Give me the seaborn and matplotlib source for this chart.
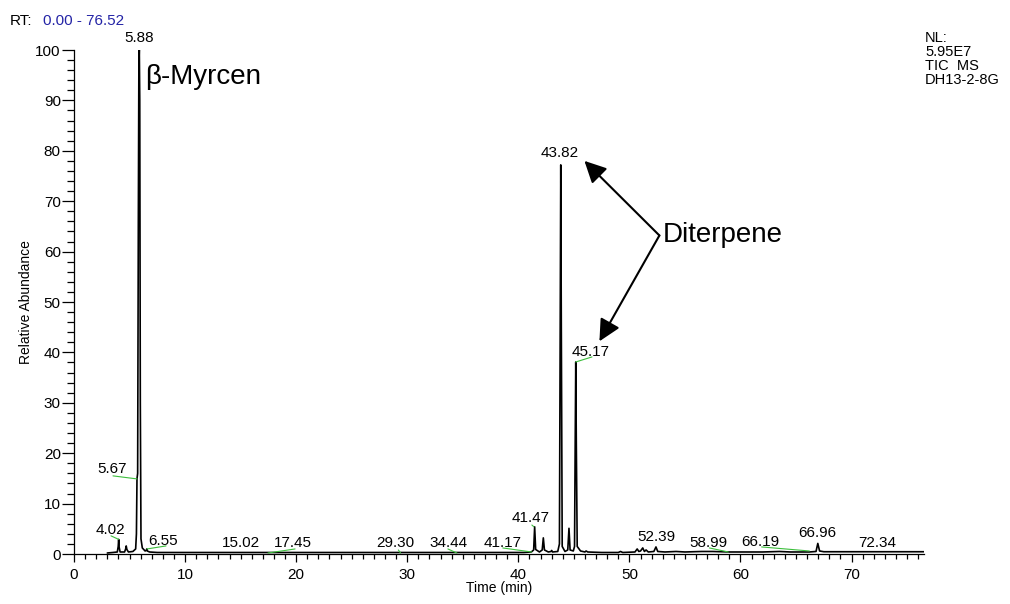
import matplotlib
matplotlib.use("Agg")
import matplotlib.pyplot as plt
from matplotlib.ticker import MultipleLocator
import seaborn as sns
import pandas as pd

# TIC trace (time in min, relative abundance in %)
rt_min = [3.00, 3.50, 3.90, 3.98, 4.02, 4.06, 4.15, 4.55, 4.65, 4.70, 4.76, 4.90,
          5.30, 5.55, 5.62, 5.67, 5.73, 5.79, 5.84, 5.88, 5.92, 5.97, 6.03, 6.15,
          6.40, 6.50, 6.55, 6.60, 6.80, 7.50, 9.00, 12.00, 15.02, 17.45, 20.00, 25.00,
          29.30, 32.00, 34.44, 38.00, 40.50, 41.17, 41.38, 41.47, 41.56, 41.90, 42.15, 42.25,
          42.35, 42.70, 42.95, 43.00, 43.08, 43.55, 43.70, 43.77, 43.82, 43.87, 43.95, 44.20,
          44.45, 44.56, 44.66, 44.95, 45.06, 45.12, 45.17, 45.22, 45.30, 45.60, 46.00, 46.10,
          46.25, 47.50, 49.00, 49.20, 49.40, 50.50, 50.70, 50.85, 51.00, 51.20, 51.35, 51.50,
          51.70, 52.20, 52.39, 52.55, 53.20, 54.20, 55.00, 56.50, 57.50, 58.99, 60.50, 62.00,
          63.50, 64.50, 66.19, 66.80, 66.96, 67.12, 67.50, 70.00, 72.34, 76.52]
abundance = [0.2, 0.3, 0.4, 1.5, 2.9, 1.4, 0.4, 0.4, 1.0, 1.6, 0.9, 0.4,
             0.5, 1.0, 4.0, 14.9, 16.0, 65.0, 97.0, 100.0, 90.0, 30.0, 3.0, 1.2,
             0.6, 0.7, 1.0, 0.6, 0.4, 0.3, 0.3, 0.3, 0.3, 0.3, 0.3, 0.3,
             0.3, 0.3, 0.3, 0.3, 0.3, 0.4, 0.8, 5.4, 0.9, 0.4, 0.8, 3.2,
             0.8, 0.4, 0.5, 0.7, 0.4, 0.5, 2.0, 45.0, 77.2, 45.0, 1.5, 0.5,
             0.8, 5.1, 0.8, 0.6, 1.5, 22.0, 38.1, 22.0, 1.5, 0.6, 0.4, 0.6,
             0.4, 0.3, 0.3, 0.5, 0.3, 0.4, 1.0, 0.5, 0.6, 1.2, 0.5, 0.8,
             0.4, 0.5, 1.4, 0.5, 0.4, 0.5, 0.4, 0.5, 0.5, 0.4, 0.4, 0.4,
             0.5, 0.4, 0.4, 0.5, 2.1, 0.6, 0.45, 0.45, 0.45, 0.45]

# labelled peaks
peak_rt = [4.02, 5.67, 5.88, 6.55, 15.02, 17.45, 29.30, 34.44, 41.17,
           41.47, 43.82, 45.17, 52.39, 58.99, 66.19, 66.96, 72.34]
peak_labels = ["4.02", "5.67", "5.88", "6.55", "15.02", "17.45", "29.30", "34.44", "41.17",
               "41.47", "43.82", "45.17", "52.39", "58.99", "66.19", "66.96", "72.34"]

x_ticks = [0, 10, 20, 30, 40, 50, 60, 70]
y_ticks = [0, 10, 20, 30, 40, 50, 60, 70, 80, 90, 100]
rt_range = (0.00, 76.52)
header_lines = ["NL:", "5.95E7", "TIC  MS", "DH13-2-8G"]

df = pd.DataFrame({"rt": rt_min, "abundance": abundance})

sns.set_style("ticks")
plt.rcParams['font.family'] = ['Liberation Sans', 'DejaVu Sans']
for key in ["text.color", "axes.labelcolor", "xtick.color", "ytick.color", "axes.edgecolor"]:
    plt.rcParams[key] = "black"

fig = plt.figure(figsize=(10.1, 6.04), dpi=100)
ax = fig.add_axes([74 / 1010, 50 / 604, 850 / 1010, 504 / 604])

sns.lineplot(data=df, x="rt", y="abundance", ax=ax, color="black", lw=1.2,
             sort=False, estimator=None)

ax.set_xlim(*rt_range)
ax.set_ylim(0, 100)
ax.set_xticks(x_ticks)
ax.set_yticks(y_ticks)
ax.xaxis.set_minor_locator(MultipleLocator(1))
ax.yaxis.set_minor_locator(MultipleLocator(2))
ax.tick_params(axis="x", which="major", length=6, width=0.9, pad=4, labelsize=11)
ax.tick_params(axis="x", which="minor", length=3.5, width=0.9)
ax.tick_params(axis="y", which="major", length=8.5, width=0.9, pad=1, labelsize=11)
ax.tick_params(axis="y", which="minor", length=5, width=0.9)
sns.despine(ax=ax)
for s in ["left", "bottom"]:
    ax.spines[s].set_linewidth(0.9)

ax.set_xlabel("Time (min)", fontsize=10)
ax.set_ylabel("Relative Abundance", fontsize=10)
ax.xaxis.set_label_coords(0.5, -0.053)
ax.yaxis.set_label_coords(-0.048, 0.5)

# peak label placement: text centre, and optional green leader (start, end)
label_layout = {
    "4.02": ((3.24, 4.76), ((3.33, 3.6), (4.02, 2.9))),
    "5.67": ((3.42, 16.9), ((3.51, 15.5), (5.67, 14.9))),
    "5.88": ((5.83, 102.3), None),
    "6.55": ((8.0, 2.6), ((6.57, 1.0), (8.28, 1.6))),
    "15.02": ((15.03, 2.2), None),
    "17.45": ((19.7, 2.2), ((17.46, 0.2), (19.9, 1.0))),
    "29.30": ((28.9, 2.2), ((29.2, 0.8), (29.4, 0.2))),
    "34.44": ((33.75, 2.2), ((33.66, 1.0), (34.47, 0.2))),
    "41.17": ((38.6, 2.2), ((38.6, 1.2), (41.2, 0.4))),
    "41.47": ((41.1, 7.1), ((41.22, 5.75), (41.4, 5.4))),
    "43.82": ((43.74, 79.6), None),
    "45.17": ((46.5, 40.1), ((45.17, 38.1), (46.63, 39.1))),
    "52.39": ((52.4, 3.4), None),
    "58.99": ((57.1, 2.2), ((57.2, 1.2), (58.9, 0.4))),
    "66.19": ((61.8, 2.4), ((61.9, 1.4), (66.2, 0.6))),
    "66.96": ((66.9, 4.2), None),
    "72.34": ((72.3, 2.2), None),
}
for rt, lab in zip(peak_rt, peak_labels):
    (tx, ty), leader = label_layout[lab]
    ax.text(tx, ty, lab, ha="center", va="center", fontsize=11, clip_on=False)
    if leader is not None:
        (x0, y0), (x1, y1) = leader
        ax.plot([x0, x1], [y0, y1], color="#3cbf3c", lw=0.8)

# compound annotations
ax.text(6.4, 94.6, "\u03b2-Myrcen", fontsize=20, ha="left", va="center")
ax.text(53.0, 63.2, "Diterpene", fontsize=20, ha="left", va="center")
arrow = dict(arrowstyle="-|>,head_length=0.6,head_width=0.3", color="black", lw=1.5,
             mutation_scale=22, shrinkA=0, shrinkB=0)
ax.annotate("", xy=(45.95, 78.0), xytext=(52.7, 63.2), arrowprops=arrow)
ax.annotate("", xy=(47.3, 42.2), xytext=(52.7, 63.2), arrowprops=arrow)

# header texts
fig.text(10 / 1010, 1 - 21 / 604, "RT:", fontsize=11, va="center", ha="left")
fig.text(43 / 1010, 1 - 21 / 604, f"{rt_range[0]:.2f} - {rt_range[1]:.2f}", fontsize=11,
         va="center", ha="left", color="#2424a6")
fig.text(925 / 1010, 1 - 31 / 604, "\n".join(header_lines), fontsize=10.5,
         va="top", ha="left", linespacing=1.0)

fig.savefig("out.png", dpi=100)
